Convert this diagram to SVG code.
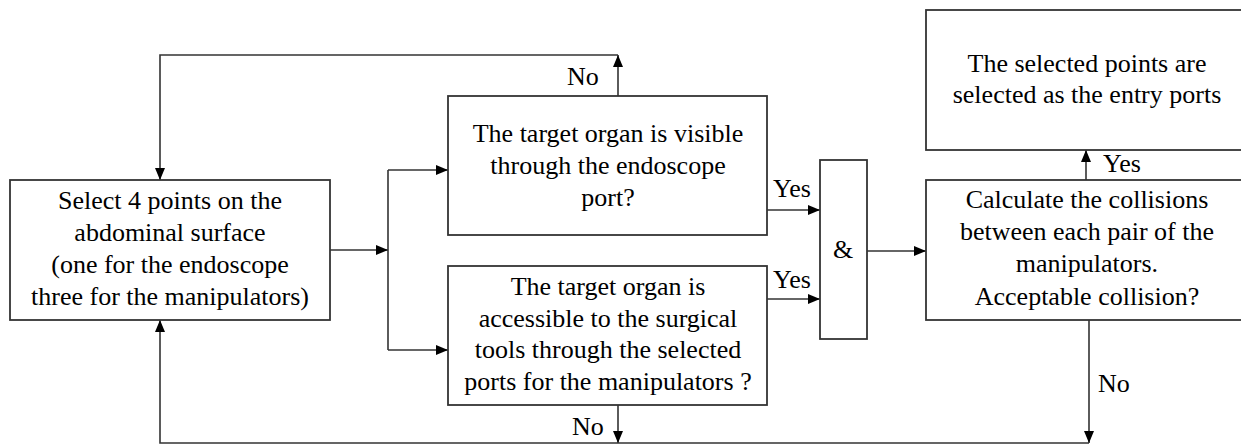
<svg xmlns="http://www.w3.org/2000/svg" width="1241" height="445" viewBox="0 0 1241 445">
<defs>
<style>
.box{fill:#fff;stroke:#333;stroke-width:1.8}
.ln{fill:none;stroke:#333;stroke-width:1.6}
text{font-family:"Liberation Serif","Times New Roman",serif;font-size:26px;fill:#000}
.c{text-anchor:middle}
</style>
<marker id="ah" viewBox="0 0 12 10" refX="12" refY="5" markerWidth="12" markerHeight="10" markerUnits="userSpaceOnUse" orient="auto">
<path d="M0,0 L12,5 L0,10 z" fill="#000"/>
</marker>
</defs>
<rect width="1241" height="445" fill="#fff"/>
<g id="connectors">
<path class="ln" d="M618,96 V55" marker-end="url(#ah)"/>
<path class="ln" d="M618,55 H160 V180" marker-end="url(#ah)"/>
<path class="ln" d="M618,405 V443" marker-end="url(#ah)"/>
<path class="ln" d="M1089,320 V443" marker-end="url(#ah)"/>
<path class="ln" d="M1089,443 H160 V320" marker-end="url(#ah)"/>
<path class="ln" d="M330,250 H388" marker-end="url(#ah)"/>
<path class="ln" d="M388,170 V350"/>
<path class="ln" d="M388,170 H448" marker-end="url(#ah)"/>
<path class="ln" d="M388,350 H448" marker-end="url(#ah)"/>
<path class="ln" d="M767,210 H820" marker-end="url(#ah)"/>
<path class="ln" d="M767,299 H820" marker-end="url(#ah)"/>
<path class="ln" d="M867,251 H926" marker-end="url(#ah)"/>
<path class="ln" d="M1086,180 V150" marker-end="url(#ah)"/>
<text x="567" y="85">No</text>
<text x="773" y="197">Yes</text>
<text x="773" y="288">Yes</text>
<text x="572" y="435">No</text>
<text x="1103" y="172">Yes</text>
<text x="1098" y="392">No</text>
</g>
<g id="select">
<rect class="box" x="10" y="180" width="320" height="140"/>
<text class="c" x="170" y="209">Select 4 points on the</text>
<text class="c" x="170" y="241">abdominal surface</text>
<text class="c" x="170" y="273">(one for the endoscope</text>
<text class="c" x="170" y="305">three for the manipulators)</text>
</g>
<g id="visible">
<rect class="box" x="448" y="96" width="319" height="139"/>
<text class="c" x="608" y="142">The target organ is visible</text>
<text class="c" x="608" y="174">through the endoscope</text>
<text class="c" x="608" y="206">port?</text>
</g>
<g id="accessible">
<rect class="box" x="448" y="266" width="319" height="139"/>
<text class="c" x="608" y="295">The target organ is</text>
<text class="c" x="608" y="327">accessible to the surgical</text>
<text class="c" x="608" y="358">tools through the selected</text>
<text class="c" x="608" y="390">ports for the manipulators ?</text>
</g>
<g id="and">
<rect class="box" x="820" y="160" width="47" height="179"/>
<text class="c" x="843" y="258">&amp;</text>
</g>
<g id="collision">
<rect class="box" x="926" y="180" width="330" height="140"/>
<text class="c" x="1087" y="208">Calculate the collisions</text>
<text class="c" x="1087" y="240">between each pair of the</text>
<text class="c" x="1087" y="272">manipulators.</text>
<text class="c" x="1087" y="305">Acceptable collision?</text>
</g>
<g id="entry">
<rect class="box" x="926" y="10" width="330" height="140"/>
<text class="c" x="1087" y="72">The selected points are</text>
<text class="c" x="1087" y="103">selected as the entry ports</text>
</g>
</svg>
